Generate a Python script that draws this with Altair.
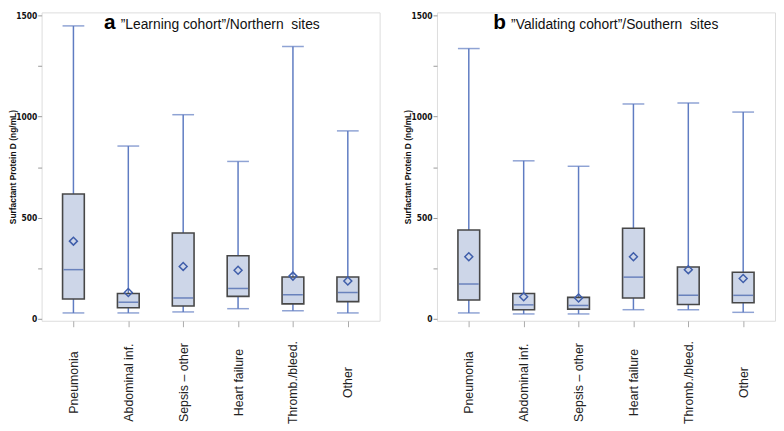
import altair as alt
import pandas as pd

categories = ["Pneumonia", "Abdominal inf.", "Sepsis – other", "Heart failure", "Thromb./bleed.", "Other"]

# Panel a: "Learning cohort"/Northern sites
a_min = [29, 29, 34, 50, 40, 29]
a_q1 = [98, 55, 63, 111, 74, 85]
a_med = [243, 82, 103, 150, 119, 130]
a_q3 = [617, 125, 424, 312, 207, 207]
a_max = [1448, 854, 1009, 778, 1346, 929]
a_mean = [384, 130, 259, 240, 211, 187]

# Panel b: "Validating cohort"/Southern sites
b_min = [29, 24, 24, 45, 45, 32]
b_q1 = [93, 45, 48, 103, 71, 79]
b_med = [172, 69, 66, 206, 117, 116]
b_q3 = [439, 125, 106, 448, 256, 230]
b_max = [1336, 781, 754, 1062, 1067, 1022]
b_mean = [307, 109, 103, 307, 243, 199]

y_ticks = [0, 250, 500, 750, 1000, 1250, 1500]

BOX_FILL = "#cdd6e8"
BOX_STROKE = "#474747"
WHISKER = "#5f7cc2"
MEDIAN = "#3f5eaa"
W = 342
H = 312
BOXW = 22


def panel(mins, q1, med, q3, maxs, means, letter, title, letter_x, title_x):
    df = pd.DataFrame({
        "cat": categories, "min": mins, "q1": q1, "med": med,
        "q3": q3, "max": maxs, "mean": means,
    })
    x = alt.X(
        "cat:N", sort=categories, title=None,
        scale=alt.Scale(type="point", padding=0.58),
        axis=alt.Axis(
            labelAngle=-90, labelAlign="center", labelBaseline="middle",
            labelPadding=56, labelFontSize=12.5, labelFont="Liberation Sans, Arial, sans-serif",
            labelColor="#222222", tickSize=6, tickColor="#aaaaaa", domain=False,
            grid=False, labelOverlap=False,
        ),
    )
    yscale = alt.Scale(domain=[-9.8, 1514.7], nice=False, zero=False)
    yaxis = alt.Axis(
        values=y_ticks, labelExpr="datum.value % 500 == 0 ? datum.label : ''",
        format="d", grid=False, domain=False, tickSize=4, tickColor="#999999",
        labelFont="Liberation Sans Narrow, Arial Narrow, DejaVu Sans Condensed, sans-serif",
        labelFontWeight="bold", labelFontSize=8.5, labelColor="#111111", labelPadding=1,
        title="Surfactant Protein D (ng/mL)", titleFontSize=8.5, titleFontWeight="bold",
        titleFont="Liberation Sans, Arial, sans-serif", titleColor="#111111", titlePadding=-2,
    )
    base = alt.Chart(df)
    whisker = base.mark_rule(color=WHISKER, strokeWidth=1.5).encode(
        x=x, y=alt.Y("min:Q", scale=yscale, axis=yaxis), y2="max:Q"
    )
    box = base.mark_bar(size=BOXW, fill=BOX_FILL, stroke=BOX_STROKE, strokeWidth=1.6).encode(
        x=x, y="q1:Q", y2="q3:Q"
    )
    median = base.mark_tick(size=BOXW - 2, thickness=1.5, color=MEDIAN).encode(x=x, y="med:Q")
    cap_lo = base.mark_tick(size=BOXW, thickness=1.5, color=WHISKER).encode(x=x, y="min:Q")
    cap_hi = base.mark_tick(size=BOXW, thickness=1.5, color=WHISKER).encode(x=x, y="max:Q")
    mean = base.mark_point(shape="diamond", filled=False, size=64, strokeWidth=1.5,
                           color=MEDIAN, opacity=1).encode(x=x, y="mean:Q")
    t1 = alt.Chart(pd.DataFrame({"t": [letter]})).mark_text(
        font="Liberation Sans, Arial, sans-serif", fontSize=21, fontWeight="bold",
        align="left", baseline="alphabetic", color="#000000"
    ).encode(x=alt.value(letter_x), y=alt.value(17), text="t:N")
    t2 = alt.Chart(pd.DataFrame({"t": [title]})).mark_text(
        font="Liberation Sans, Arial, sans-serif", fontSize=14,
        align="left", baseline="alphabetic", color="#111111"
    ).encode(x=alt.value(title_x), y=alt.value(17), text="t:N")
    return alt.layer(whisker, box, median, cap_lo, cap_hi, mean, t1, t2).properties(
        width=W, height=H
    )


left = panel(a_min, a_q1, a_med, a_q3, a_max, a_mean, "a",
             "\u201dLearning cohort\u201d/Northern\u00a0 sites", 63, 80)
right = panel(b_min, b_q1, b_med, b_q3, b_max, b_mean, "b",
              "\u201dValidating cohort\u201d/Southern\u00a0 sites", 57, 75)

chart = alt.hconcat(left, right, spacing=23).properties(
    padding={"left": 0, "top": 0, "right": 0, "bottom": 0}
).configure_view(stroke="#c4c4c4", strokeWidth=1.5).configure(background="white")

chart.save("out.html", embed_options={"renderer": "svg", "actions": False})
